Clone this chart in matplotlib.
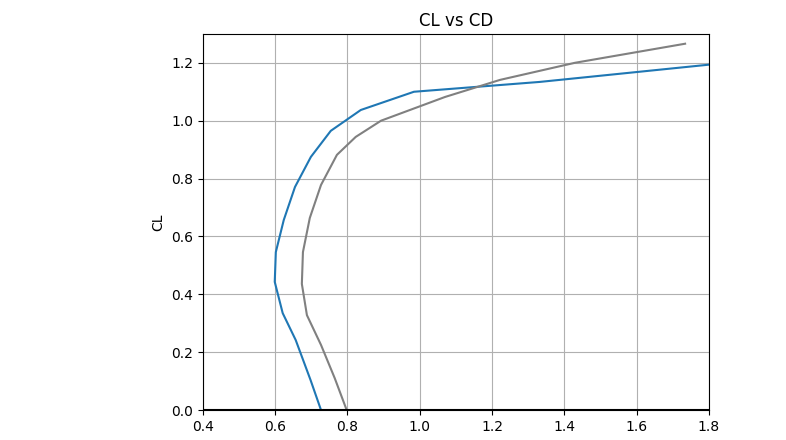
import matplotlib
matplotlib.use("Agg")
import matplotlib.pyplot as plt

cd_blue = [0.727, 0.698, 0.657, 0.621, 0.599, 0.602, 0.624, 0.655, 0.699, 0.754, 0.837, 0.984, 1.332, 1.85]
cl_blue = [0.0, 0.104, 0.242, 0.335, 0.443, 0.546, 0.657, 0.771, 0.875, 0.965, 1.037, 1.100, 1.134, 1.20]
cd_gray = [0.798, 0.765, 0.727, 0.688, 0.674, 0.677, 0.696, 0.727, 0.771, 0.823, 0.893, 1.070, 1.222, 1.429, 1.734]
cl_gray = [0.0, 0.11, 0.225, 0.328, 0.436, 0.546, 0.664, 0.778, 0.882, 0.944, 1.0, 1.082, 1.141, 1.2, 1.266]

fig = plt.figure(figsize=(7.86, 4.4), dpi=100)
ax = fig.add_axes([0.258, 0.068, 0.644, 0.855])
ax.plot(cd_blue, cl_blue, color="#1f77b4", lw=1.5)
ax.plot(cd_gray, cl_gray, color="gray", lw=1.5)
ax.axhline(0, color="black", lw=1.5)
ax.set_xlim(0.4, 1.8)
ax.set_ylim(0, 1.3)
ax.set_xticks([0.4, 0.6, 0.8, 1.0, 1.2, 1.4, 1.6, 1.8])
ax.set_yticks([0.0, 0.2, 0.4, 0.6, 0.8, 1.0, 1.2])
ax.grid(True)
ax.set_ylabel("CL")
ax.set_title("CL vs CD")
fig.savefig("out.png", dpi=100)
